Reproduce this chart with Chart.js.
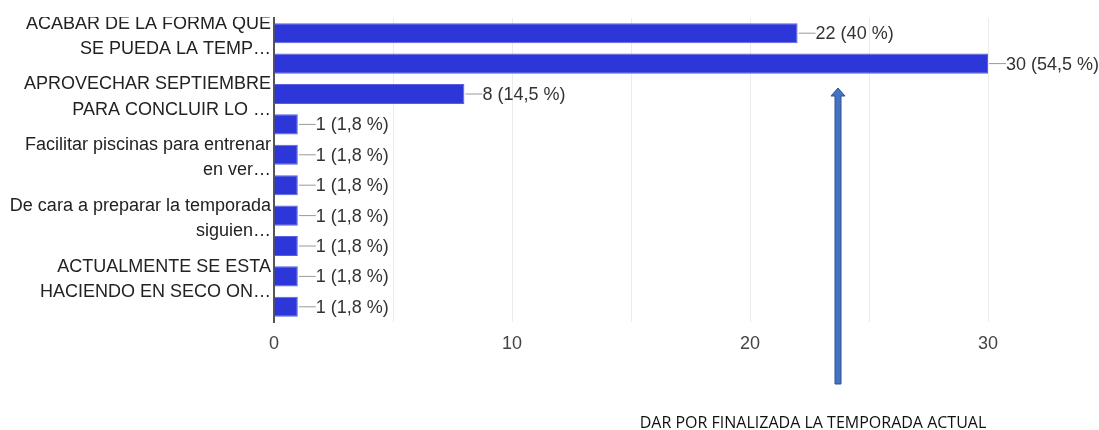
<!DOCTYPE html>
<html>
<head>
<meta charset="utf-8">
<script src="https://cdn.jsdelivr.net/npm/chart.js@4"></script>
<style>
  body { margin: 0; background: #fff; }
  #wrap { width: 1099px; height: 430px; }
</style>
</head>
<body>
<div id="wrap"><canvas id="chart" width="1099" height="430"></canvas></div>
<script>
// answers (only every other label is printed on the axis)
const answers = [
  ['ACABAR DE LA FORMA QUE', 'SE PUEDA LA TEMP…'],
  '',
  ['APROVECHAR SEPTIEMBRE', 'PARA CONCLUIR LO …'],
  '',
  ['Facilitar piscinas para entrenar', 'en ver…'],
  '',
  ['De cara a preparar la temporada', 'siguien…'],
  '',
  ['ACTUALMENTE SE ESTA', 'HACIENDO EN SECO ON…'],
  ''
];
const votes = [22, 30, 8, 1, 1, 1, 1, 1, 1, 1];
const percents = ['40', '54,5', '14,5', '1,8', '1,8', '1,8', '1,8', '1,8', '1,8', '1,8'];
const xTicks = [0, 10, 20, 30];

const arrowValue = 23.7;
const noteText = 'DAR POR FINALIZADA LA TEMPORADA ACTUAL';

const barLabels = {
  id: 'barLabels',
  afterDatasetsDraw(chart) {
    const ctx = chart.ctx;
    const meta = chart.getDatasetMeta(0);
    ctx.save();
    ctx.font = '18px "Liberation Sans", Arial, sans-serif';
    ctx.textBaseline = 'middle';
    meta.data.forEach(function (bar, i) {
      const x = bar.x;
      const y = bar.y;
      ctx.strokeStyle = '#999';
      ctx.lineWidth = 1;
      ctx.beginPath();
      ctx.moveTo(x + 1, y);
      ctx.lineTo(x + 18, y);
      ctx.stroke();
      ctx.fillStyle = '#333';
      ctx.fillText(votes[i] + ' (' + percents[i] + ' %)', x + 18, y + 1);
    });
    ctx.restore();
  }
};

const extras = {
  id: 'extras',
  afterDraw(chart) {
    const ctx = chart.ctx;
    const area = chart.chartArea;
    // top of the first label is cut off in the original screenshot
    ctx.save();
    ctx.fillStyle = '#fff';
    ctx.fillRect(0, 0, area.left - 2, area.top - 1);

    // arrow
    const ax = Math.round(chart.scales.x.getPixelForValue(arrowValue));
    const top = 88, bottom = 384;
    ctx.fillStyle = '#4472c4';
    ctx.strokeStyle = '#2f528f';
    ctx.lineWidth = 1;
    ctx.beginPath();
    ctx.moveTo(ax - 3, bottom);
    ctx.lineTo(ax - 3, top + 8);
    ctx.lineTo(ax - 7, top + 8);
    ctx.lineTo(ax, top);
    ctx.lineTo(ax + 7, top + 8);
    ctx.lineTo(ax + 3, top + 8);
    ctx.lineTo(ax + 3, bottom);
    ctx.closePath();
    ctx.fill();
    ctx.stroke();

    // note under the arrow
    ctx.fillStyle = '#111';
    ctx.font = '16px "Open Sans", sans-serif';
    ctx.textAlign = 'center';
    ctx.textBaseline = 'middle';
    ctx.fillText(noteText, 813, 423);
    ctx.restore();
  }
};

new Chart(document.getElementById('chart'), {
  type: 'bar',
  data: {
    labels: answers,
    datasets: [{
      data: votes,
      backgroundColor: '#2d36d8',
      borderColor: '#5a60dc',
      borderWidth: 1,
      barPercentage: 0.66,
      categoryPercentage: 1
    }]
  },
  options: {
    indexAxis: 'y',
    responsive: false,
    animation: false,
    layout: { padding: { top: 18, right: 111, left: 0, bottom: 0 } },
    plugins: { legend: { display: false }, tooltip: { enabled: false } },
    scales: {
      x: {
        min: 0,
        max: 30,
        ticks: {
          stepSize: 5,
          autoSkip: false,
          maxRotation: 0,
          padding: 11,
          color: '#444',
          font: { family: '"Liberation Sans", Arial, sans-serif', size: 18 },
          callback: function (v) { return xTicks.includes(v) ? String(v) : ''; }
        },
        grid: { color: '#ebebeb', drawTicks: false },
        border: { display: false },
        afterFit: function (scale) { scale.height = 108; }
      },
      y: {
        ticks: {
          autoSkip: false,
          padding: 3,
          labelOffset: 3,
          color: '#222',
          font: { family: '"Liberation Sans", Arial, sans-serif', size: 18, lineHeight: 1.4 }
        },
        grid: { display: false, drawTicks: false },
        border: { color: '#555', width: 2 },
        afterFit: function (scale) { scale.width = 274; }
      }
    }
  },
  plugins: [barLabels, extras]
});
</script>
</body>
</html>
